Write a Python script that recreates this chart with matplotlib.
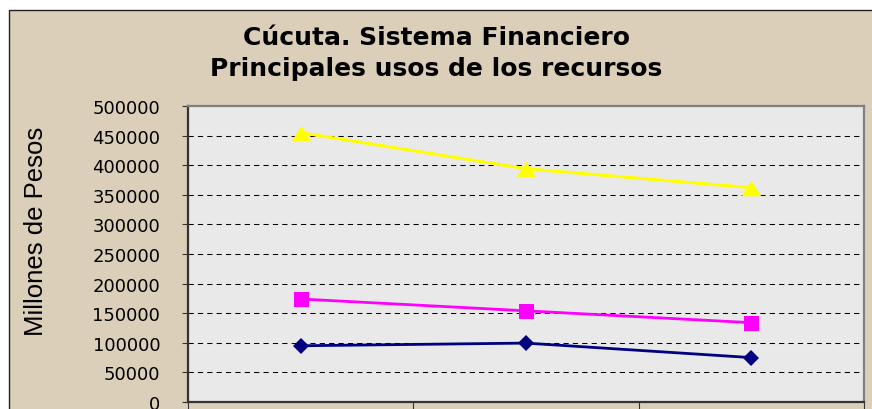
import matplotlib
matplotlib.use("Agg")
import matplotlib.pyplot as plt
from matplotlib.patches import Rectangle

plt.rcParams["font.family"] = "DejaVu Sans"

# three periods on the x axis (their labels are cut off in the source picture)
periodos = ["", "", ""]
y_ticks = [0, 50000, 100000, 150000, 200000, 250000, 300000, 350000, 400000, 450000, 500000]

# series values, millones de pesos
serie_triangulo = [455000, 394000, 362000]
serie_cuadrado = [174000, 154000, 134000]
serie_rombo = [95000, 99500, 75000]

fig = plt.figure(figsize=(8.72, 4.10), dpi=100, facecolor="white")

# chart area (beige) with thin dark border, cropped on right/bottom
fig.patches.append(Rectangle((9 / 872, -0.05), 1.2, 399 / 410 + 0.05,
                             transform=fig.transFigure, facecolor="#dbcfba",
                             edgecolor="#222222", linewidth=1, zorder=-5))

ax = fig.add_axes([188 / 872, 7 / 410, 676 / 872, 296 / 410])
ax.set_zorder(2)
ax.set_facecolor("#e9e9e9")

x = list(range(len(periodos)))

tri = [(-1, -0.8), (1, -0.8), (0, 0.8)]
ax.plot(x, serie_triangulo, color="#ffff00", lw=2.2, marker=tri, ms=14,
        mew=0, zorder=3)
ax.plot(x, serie_cuadrado, color="#ff00ff", lw=2.0, marker="s", ms=10.8,
        mew=0, zorder=3)
ax.plot(x, serie_rombo, color="#000080", lw=2.0, marker="D", ms=8.6,
        mew=0, zorder=3)

ax.set_xlim(-0.5, len(periodos) - 0.5)
ax.set_ylim(0, 500000)
ax.set_yticks(y_ticks)
ax.set_yticklabels([str(v) for v in y_ticks], fontsize=13)
ax.set_xticks([i - 0.5 for i in range(len(periodos) + 1)])
ax.set_xticklabels([])

ax.yaxis.grid(True, linestyle=(0, (5, 4)), color="black", linewidth=0.75, zorder=1)
ax.set_axisbelow(True)

ax.tick_params(axis="y", direction="out", length=4, width=0.8, color="#333333", pad=16)
ax.tick_params(axis="x", direction="out", length=6, width=0.8, color="#333333")

for side in ["left", "bottom"]:
    ax.spines[side].set_color("#333333")
    ax.spines[side].set_linewidth(1.6)
for side in ["top", "right"]:
    ax.spines[side].set_color("#808080")
    ax.spines[side].set_linewidth(1.6)

fig.text(0.5, 365 / 410, "Cúcuta. Sistema Financiero", ha="center", va="baseline",
         fontsize=18, fontweight="bold")
fig.text(0.5, 334 / 410, "Principales usos de los recursos", ha="center", va="baseline",
         fontsize=18, fontweight="bold")

fig.text(36 / 872, (410 - 231) / 410, "Millones de Pesos", rotation=90, ha="center",
         va="center", fontsize=18.5, family="Liberation Sans")

fig.savefig("out.png", dpi=100)
